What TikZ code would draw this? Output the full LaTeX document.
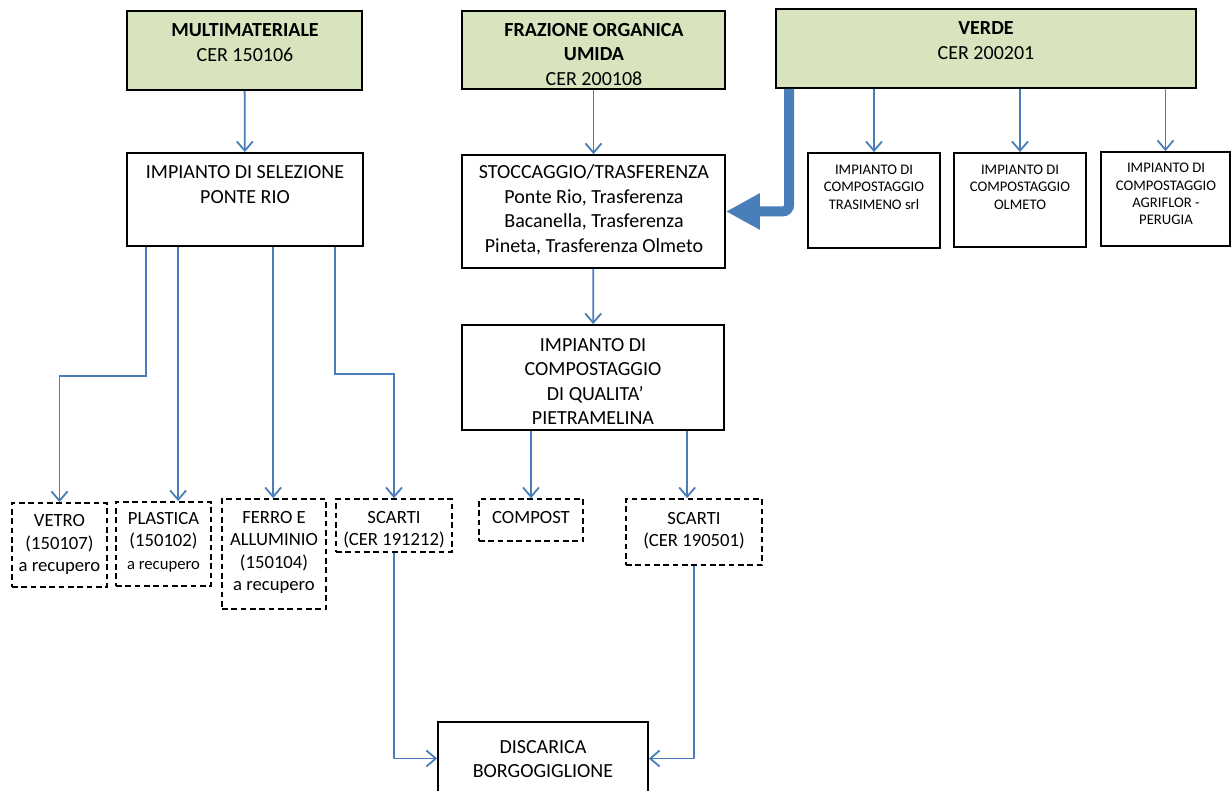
\documentclass[tikz,border=0pt]{standalone}
\usepackage{fontspec}
\setmainfont{Carlito}
\usetikzlibrary{arrows.meta,fit,calc}
\definecolor{boxgreen}{HTML}{D7E4BD}
\definecolor{linkblue}{HTML}{4A7EBB}
\begin{document}
\begin{tikzpicture}[x=0.75pt,y=-0.75pt,
  box/.style={draw=black,line width=1.3pt,inner sep=0pt},
  greenbox/.style={box,fill=boxgreen},
  dbox/.style={draw=black,line width=1.3pt,inner sep=0pt,dash pattern=on 4.2pt off 2.8pt},
  conn/.style={draw=linkblue,line width=1.35pt,-{Straight Barb[length=7pt,width=12pt]}},
  bigarrow/.style={draw=linkblue,line width=7.5pt,rounded corners=5pt,-{Triangle[length=25.5pt,width=25.5pt]}},
  bigtxt/.style={inner sep=0pt,align=center,font=\fontsize{15}{18.4}\selectfont},
  smalltxt/.style={inner sep=0pt,align=center,font=\fontsize{11}{13}\selectfont},
  midtxt/.style={inner sep=0pt,align=center,font=\fontsize{14}{16.8}\selectfont}]
\useasboundingbox (0,0) rectangle (1231,791);

% boxes
\node[greenbox, fit={(127,11)(362,90)}] (multi) {};
\node[box, fit={(127,153)(363,246)}] (sel) {};
\node[greenbox, fit={(462,11)(725,89)}] (fraz) {};
\node[box, fit={(462,155)(725,268)}] (stocc) {};
\node[greenbox, fit={(776,9)(1196,88)}] (verde) {};
\node[box, fit={(808,153)(940,248)}] (tras) {};
\node[box, fit={(954,153)(1086,247)}] (olm) {};
\node[box, fit={(1101,152)(1230,246)}] (agri) {};
\node[box, fit={(462,325)(724,430)}] (qual) {};
\node[dbox, fit={(12,503)(107,587)}] (vetro) {};
\node[dbox, fit={(116,502)(211,586)}] (plast) {};
\node[dbox, fit={(222,499)(326,609)}] (ferro) {};
\node[dbox, fit={(336,499)(452,552)}] (sc1) {};
\node[dbox, fit={(479,499)(583,541)}] (compost) {};
\node[dbox, fit={(626,499)(762,565)}] (sc2) {};
\node[box, fit={(438,722)(648,795)}] (disc) {};

% texts
\node[bigtxt] (multi-t) at (245,42.5) {\textbf{MULTIMATERIALE}\\CER 150106};
\node[bigtxt] (sel-t) at (245,184.5) {IMPIANTO DI SELEZIONE\\PONTE RIO};
\node[bigtxt] (fraz-t) at (594,54.5) {\textbf{FRAZIONE ORGANICA}\\\textbf{UMIDA}\\CER 200108};
\node[bigtxt] (stocc-t) at (594,210) {STOCCAGGIO/TRASFERENZA\\Ponte Rio, Trasferenza\\Bacanella, Trasferenza\\Pineta, Trasferenza Olmeto};
\node[bigtxt] (verde-t) at (986,40.5) {\textbf{VERDE}\\CER 200201};
\node[smalltxt] (tras-t) at (874,187) {IMPIANTO DI\\COMPOSTAGGIO\\TRASIMENO srl};
\node[smalltxt] (olm-t) at (1020,187) {IMPIANTO DI\\COMPOSTAGGIO\\OLMETO};
\node[smalltxt] (agri-t) at (1166,194) {IMPIANTO DI\\COMPOSTAGGIO\\AGRIFLOR -\\PERUGIA};
\node[bigtxt] (qual-t) at (593,381.5) {IMPIANTO DI\\COMPOSTAGGIO\\\ DI QUALITA’\\PIETRAMELINA};
\node[midtxt] (vetro-t) at (59.5,544.5) {VETRO\\(150107)\\a recupero};
\node[midtxt] (plast-t) at (163.5,542) {PLASTICA\\(150102)\\{\fontsize{12.5}{15}\selectfont a recupero}};
\node[midtxt] (ferro-t) at (274,552.5) {FERRO E\\ALLUMINIO\\(150104)\\a recupero};
\node[midtxt] (sc1-t) at (394,530) {SCARTI\\(CER 191212)};
\node[midtxt] (compost-t) at (531,518) {COMPOST};
\node[midtxt] (sc2-t) at (694,531) {SCARTI\\(CER 190501)};
\node[bigtxt] (disc-t) at (543,759) {DISCARICA\\BORGOGIGLIONE};

% connectors
\draw[conn] (multi) -- (sel);
\draw[conn] (fraz) -- (stocc);
\draw[conn] (stocc) -- (qual);
\draw[conn] (verde.south -| tras.north) -- (tras.north);
\draw[conn] (verde.south -| olm.north) -- (olm.north);
\draw[conn] (verde.south -| agri.north) -- (agri.north);

\coordinate (s1) at ($(sel.south west)+(20,0)$);
\coordinate (s2) at ($(sel.south west)+(52,0)$);
\coordinate (s3) at ($(sel.south west)+(147,0)$);
\coordinate (s4) at ($(sel.south west)+(209,0)$);
\draw[conn] (s1) -- ++(0,129) -| (vetro.north);
\draw[conn] (s2) -- (s2 |- plast.north);
\draw[conn] (s3) -- (s3 |- ferro.north);
\draw[conn] (s4) -- ++(0,127) -| (sc1.north);

\coordinate (q2) at ($(qual.south west)+(226,0)$);
\draw[conn] (compost.north |- qual.south) -- (compost.north);
\draw[conn] (q2) -- (q2 |- sc2.north);

\draw[conn] (sc1.south) |- (disc.west);
\draw[conn] (sc2.south) |- (disc.east);

\coordinate (vb) at ($(verde.south west)+(14,0)$);
\draw[bigarrow] (vb) |- (stocc.east);
\end{tikzpicture}
\end{document}
